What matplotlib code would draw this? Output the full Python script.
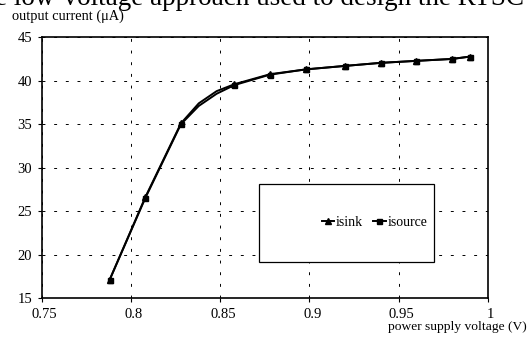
import matplotlib
matplotlib.use("Agg")
import matplotlib.pyplot as plt
import matplotlib.transforms as mtransforms
from matplotlib.patches import Rectangle

plt.rcParams['font.family'] = ['Liberation Serif', 'DejaVu Serif']

# supply voltage (V) and output currents (uA)
vdd = [0.788, 0.808, 0.828, 0.838, 0.848, 0.858, 0.878, 0.898, 0.92, 0.94, 0.96, 0.98, 0.99]
isink = [17.1, 26.6, 35.1, 37.4, 38.8, 39.6, 40.75, 41.3, 41.7, 42.05, 42.28, 42.5, 42.77]
isource = [17.1, 26.5, 35.0, 37.1, 38.5, 39.5, 40.7, 41.3, 41.7, 42.05, 42.28, 42.5, 42.77]
marked = [0, 1, 2, 5, 6, 7, 8, 9, 10, 11, 12]

xticks = [0.75, 0.8, 0.85, 0.9, 0.95, 1]
xlabels = ['0.75', '0.8', '0.85', '0.9', '0.95', '1']
yticks = [15, 20, 25, 30, 35, 40, 45]

fig = plt.figure(figsize=(5.28, 3.41), dpi=100)
ax = fig.add_axes([0.079, 0.125, 0.845, 0.766])

ax.plot(vdd, isink, color='black', lw=1.4, marker='^', ms=4,
        markevery=marked, label='isink')
ax.plot(vdd, isource, color='black', lw=1.4, marker='s', ms=3.6,
        markevery=marked, label='isource')

ax.set_xlim(0.75, 1.0)
ax.set_ylim(15, 45)
ax.set_xticks(xticks)
ax.set_xticklabels(xlabels)
ax.set_yticks(yticks)
ax.tick_params(labelsize=10.5, length=3, width=0.8, direction='out')
ax.tick_params(axis='y', pad=4)
ax.tick_params(axis='x', pad=4)
shift = mtransforms.ScaledTranslation(3 / 100, 0, fig.dpi_scale_trans)
for lab in ax.get_xticklabels():
    lab.set_transform(lab.get_transform() + shift)
ax.grid(True, color='black', linestyle=(0, (3, 9)), lw=0.7)
for s in ax.spines.values():
    s.set_linewidth(1.2)

# legend box as drawn in the original
ax.add_patch(Rectangle((0.486, 0.138), 0.394, 0.30, transform=ax.transAxes,
                       facecolor='white', edgecolor='black', lw=0.9, zorder=4))
leg = ax.legend(ncol=2, loc='center', bbox_to_anchor=(0.746, 0.29),
                frameon=False, fontsize=10, borderpad=0,
                handlelength=0.9, handletextpad=0.15, columnspacing=0.7)
leg.set_zorder(5)

fig.text(0.022, 0.951, 'output current (\u03bcA)', fontsize=10.4, va='center')
fig.text(0.735, 0.04, 'power supply voltage (V)', fontsize=9.7, va='center')
fig.text(-0.05, 0.986, 'the low-voltage approach used to design the RTSC',
         fontsize=19.5, va='baseline')

fig.savefig('out.png', dpi=100)
